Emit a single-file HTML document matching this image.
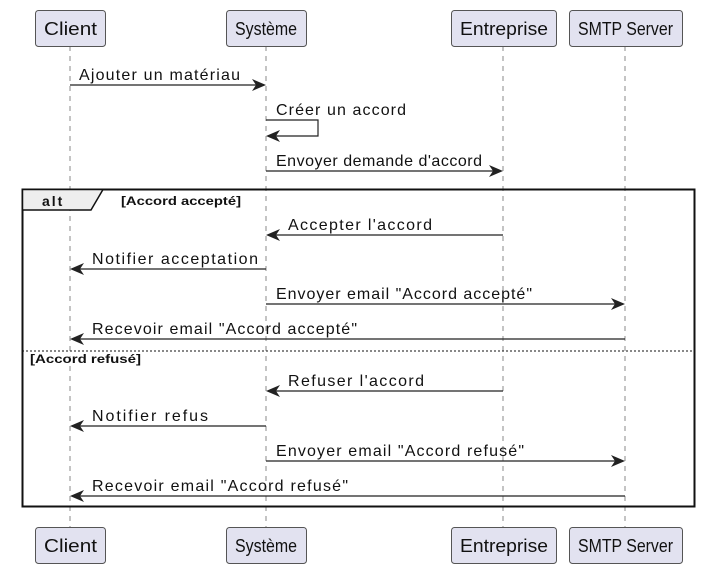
<!DOCTYPE html>
<html><head><meta charset="utf-8"><style>html,body{margin:0;padding:0;background:#fff}svg{display:block}</style></head>
<body>
<svg width="715" height="576" viewBox="0 0 715 576" xmlns="http://www.w3.org/2000/svg" font-family="Liberation Sans, sans-serif">
<rect width="715" height="576" fill="#fff"/>
<g stroke="#888" stroke-width="1" stroke-dasharray="5,5">
<line x1="70" y1="46" x2="70" y2="527"/>
<line x1="266" y1="46" x2="266" y2="527"/>
<line x1="503" y1="46" x2="503" y2="527"/>
<line x1="625" y1="46" x2="625" y2="527"/>
</g>
<g fill="#e2e2f0" stroke="#555" stroke-width="1">
<rect x="35.5" y="10.5" width="70" height="36" rx="3"/>
<rect x="226.5" y="10.5" width="80" height="36" rx="3"/>
<rect x="451.5" y="10.5" width="105" height="36" rx="3"/>
<rect x="569.5" y="10.5" width="113" height="36" rx="3"/>
<rect x="35.5" y="527.5" width="70" height="36" rx="3"/>
<rect x="226.5" y="527.5" width="80" height="36" rx="3"/>
<rect x="451.5" y="527.5" width="105" height="36" rx="3"/>
<rect x="569.5" y="527.5" width="113" height="36" rx="3"/>
</g>
<g font-size="18" fill="#111">
<text x="44" y="35" textLength="53" lengthAdjust="spacingAndGlyphs">Client</text>
<text x="235" y="35" textLength="62" lengthAdjust="spacingAndGlyphs">Système</text>
<text x="460" y="35" textLength="88" lengthAdjust="spacingAndGlyphs">Entreprise</text>
<text x="578" y="35" textLength="95" lengthAdjust="spacingAndGlyphs">SMTP Server</text>
<text x="44" y="552" textLength="53" lengthAdjust="spacingAndGlyphs">Client</text>
<text x="235" y="552" textLength="62" lengthAdjust="spacingAndGlyphs">Système</text>
<text x="460" y="552" textLength="88" lengthAdjust="spacingAndGlyphs">Entreprise</text>
<text x="578" y="552" textLength="95" lengthAdjust="spacingAndGlyphs">SMTP Server</text>
</g>
<rect x="22.5" y="189.5" width="672" height="317" fill="none" stroke="#111" stroke-width="2"/>
<path d="M22.5 189.5H103L91 210H22.5Z" fill="#eee" stroke="#111" stroke-width="1.5"/>
<text x="42" y="206" font-size="14" font-weight="bold" fill="#111" letter-spacing="2">alt</text>
<text x="121" y="205" font-size="12" font-weight="bold" fill="#111" textLength="120" lengthAdjust="spacingAndGlyphs">[Accord accepté]</text>
<line x1="22" y1="351" x2="695" y2="351" stroke="#111" stroke-width="1" stroke-dasharray="2,2"/>
<text x="30" y="363" font-size="12" font-weight="bold" fill="#111" textLength="111" lengthAdjust="spacingAndGlyphs">[Accord refusé]</text>
<g stroke="#222" stroke-width="1.2" fill="none">
<line x1="70" y1="85" x2="264" y2="85"/>
<polyline points="266,120 318,120 318,136 268,136"/>
<line x1="266" y1="171" x2="501" y2="171"/>
<line x1="503" y1="235" x2="268" y2="235"/>
<line x1="266" y1="269" x2="72" y2="269"/>
<line x1="266" y1="304" x2="623" y2="304"/>
<line x1="625" y1="339" x2="72" y2="339"/>
<line x1="503" y1="391" x2="268" y2="391"/>
<line x1="266" y1="426" x2="72" y2="426"/>
<line x1="266" y1="461" x2="623" y2="461"/>
<line x1="625" y1="496" x2="72" y2="496"/>
</g>
<g fill="#222">
<path d="M266 85l-14-6 4 6-4 6z"/>
<path d="M266 136l14-6-4 6 4 6z"/>
<path d="M503 171l-14-6 4 6-4 6z"/>
<path d="M266 235l14-6-4 6 4 6z"/>
<path d="M70 269l14-6-4 6 4 6z"/>
<path d="M625 304l-14-6 4 6-4 6z"/>
<path d="M70 339l14-6-4 6 4 6z"/>
<path d="M266 391l14-6-4 6 4 6z"/>
<path d="M70 426l14-6-4 6 4 6z"/>
<path d="M625 461l-14-6 4 6-4 6z"/>
<path d="M70 496l14-6-4 6 4 6z"/>
</g>
<g font-size="16" fill="#111" lengthAdjust="spacing">
<text x="79" y="80" textLength="161">Ajouter un matériau</text>
<text x="276" y="115" textLength="130">Créer un accord</text>
<text x="276" y="166" textLength="206">Envoyer demande d'accord</text>
<text x="288" y="230" textLength="144">Accepter l'accord</text>
<text x="92" y="264" textLength="166">Notifier acceptation</text>
<text x="276" y="299" textLength="256">Envoyer email "Accord accepté"</text>
<text x="92" y="334" textLength="265">Recevoir email "Accord accepté"</text>
<text x="288" y="386" textLength="136">Refuser l'accord</text>
<text x="92" y="421" textLength="116">Notifier refus</text>
<text x="276" y="456" textLength="248">Envoyer email "Accord refusé"</text>
<text x="92" y="491" textLength="256">Recevoir email "Accord refusé"</text>
</g>
</svg>
</body></html>
